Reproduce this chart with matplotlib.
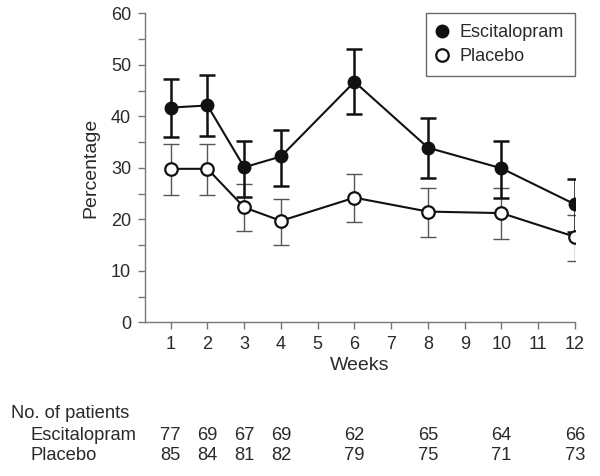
import numpy as np
import matplotlib.pyplot as plt
import matplotlib.transforms as mtransforms
from matplotlib.ticker import MultipleLocator

plt.rcParams['font.family'] = ['Liberation Sans', 'DejaVu Sans']

# weeks with measurements
weeks = [1, 2, 3, 4, 6, 8, 10, 12]

# escitalopram: mean percentage and error bar ends
esc_mean = [41.7, 42.1, 30.1, 32.2, 46.7, 33.9, 29.9, 22.9]
esc_upper = [47.2, 48.0, 35.3, 37.4, 53.1, 39.6, 35.2, 27.8]
esc_lower = [36.0, 36.1, 24.4, 26.4, 40.4, 28.1, 24.1, 17.6]

# placebo
pla_mean = [29.8, 29.8, 22.3, 19.7, 24.2, 21.5, 21.2, 16.6]
pla_upper = [34.7, 34.7, 26.9, 23.9, 28.7, 26.1, 26.0, 20.8]
pla_lower = [24.7, 24.7, 17.7, 15.1, 19.4, 16.5, 16.2, 12.0]

# number of patients table
n_esc = [77, 69, 67, 69, 62, 65, 64, 66]
n_pla = [85, 84, 81, 82, 79, 75, 71, 73]

txt = '#2a2a2a'
axc = '#777777'

fig = plt.figure(figsize=(6, 4.76), dpi=100)
ax = fig.add_axes([145 / 600, 1 - 322.3 / 476, 430 / 600, 309 / 476])

esc_m = np.array(esc_mean)
pla_m = np.array(pla_mean)
esc_err = [esc_m - np.array(esc_lower), np.array(esc_upper) - esc_m]
pla_err = [pla_m - np.array(pla_lower), np.array(pla_upper) - pla_m]

ax.errorbar(weeks, pla_mean, yerr=pla_err, fmt='none', ecolor='#555555',
            elinewidth=1.0, capsize=6, capthick=1.0, zorder=2)
ax.errorbar(weeks, esc_mean, yerr=esc_err, fmt='none', ecolor='#111111',
            elinewidth=1.8, capsize=6, capthick=1.8, zorder=3)
ax.plot(weeks, pla_mean, '-o', color='#111111', lw=1.5, ms=9,
        mfc='white', mec='#111111', mew=1.6, label='Placebo', zorder=4)
ax.plot(weeks, esc_mean, '-o', color='#111111', lw=1.5, ms=9,
        mfc='#111111', mec='#111111', label='Escitalopram', zorder=5)

ax.set_xlim(0.3, 12)
ax.set_ylim(0, 60)
ax.set_xticks(range(1, 13))
ax.yaxis.set_major_locator(MultipleLocator(10))
ax.yaxis.set_minor_locator(MultipleLocator(5))

for s in ['top', 'right']:
    ax.spines[s].set_visible(False)
for s in ['left', 'bottom']:
    ax.spines[s].set_color(axc)
    ax.spines[s].set_linewidth(1.0)
ax.tick_params(which='both', colors=axc, labelcolor=txt, labelsize=13,
               length=5, width=1.0, pad=5)

ax.set_xlabel('Weeks', fontsize=14, color=txt, labelpad=3)
ax.set_ylabel('Percentage', fontsize=14, color=txt, labelpad=8)

handles, labels = ax.get_legend_handles_labels()
leg = ax.legend(handles[::-1], labels[::-1], loc='upper right',
                bbox_to_anchor=(1.0, 1.0), fontsize=13, frameon=True,
                fancybox=False, edgecolor='#444444', handlelength=0.6,
                handletextpad=0.7, borderpad=0.6, labelspacing=0.4,
                borderaxespad=0.0)
leg.get_frame().set_linewidth(1.0)
for h in leg.get_lines():
    h.set_linestyle('none')
for t in leg.get_texts():
    t.set_color(txt)

# patient numbers table below the axis
tsize = 13.2
trans = mtransforms.blended_transform_factory(ax.transData, fig.transFigure)
fig.text(11 / 600, 1 - 413 / 476, 'No. of patients', fontsize=tsize,
         color=txt, va='center', ha='left')
fig.text(31 / 600, 1 - 435 / 476, 'Escitalopram', fontsize=tsize,
         color=txt, va='center', ha='left')
fig.text(31 / 600, 1 - 456 / 476, 'Placebo', fontsize=tsize,
         color=txt, va='center', ha='left')
for w, a, b in zip(weeks, n_esc, n_pla):
    ax.text(w, 1 - 435 / 476, str(a), transform=trans, fontsize=tsize,
            color=txt, ha='center', va='center', clip_on=False)
    ax.text(w, 1 - 456 / 476, str(b), transform=trans, fontsize=tsize,
            color=txt, ha='center', va='center', clip_on=False)

fig.savefig('out.png', dpi=100)
